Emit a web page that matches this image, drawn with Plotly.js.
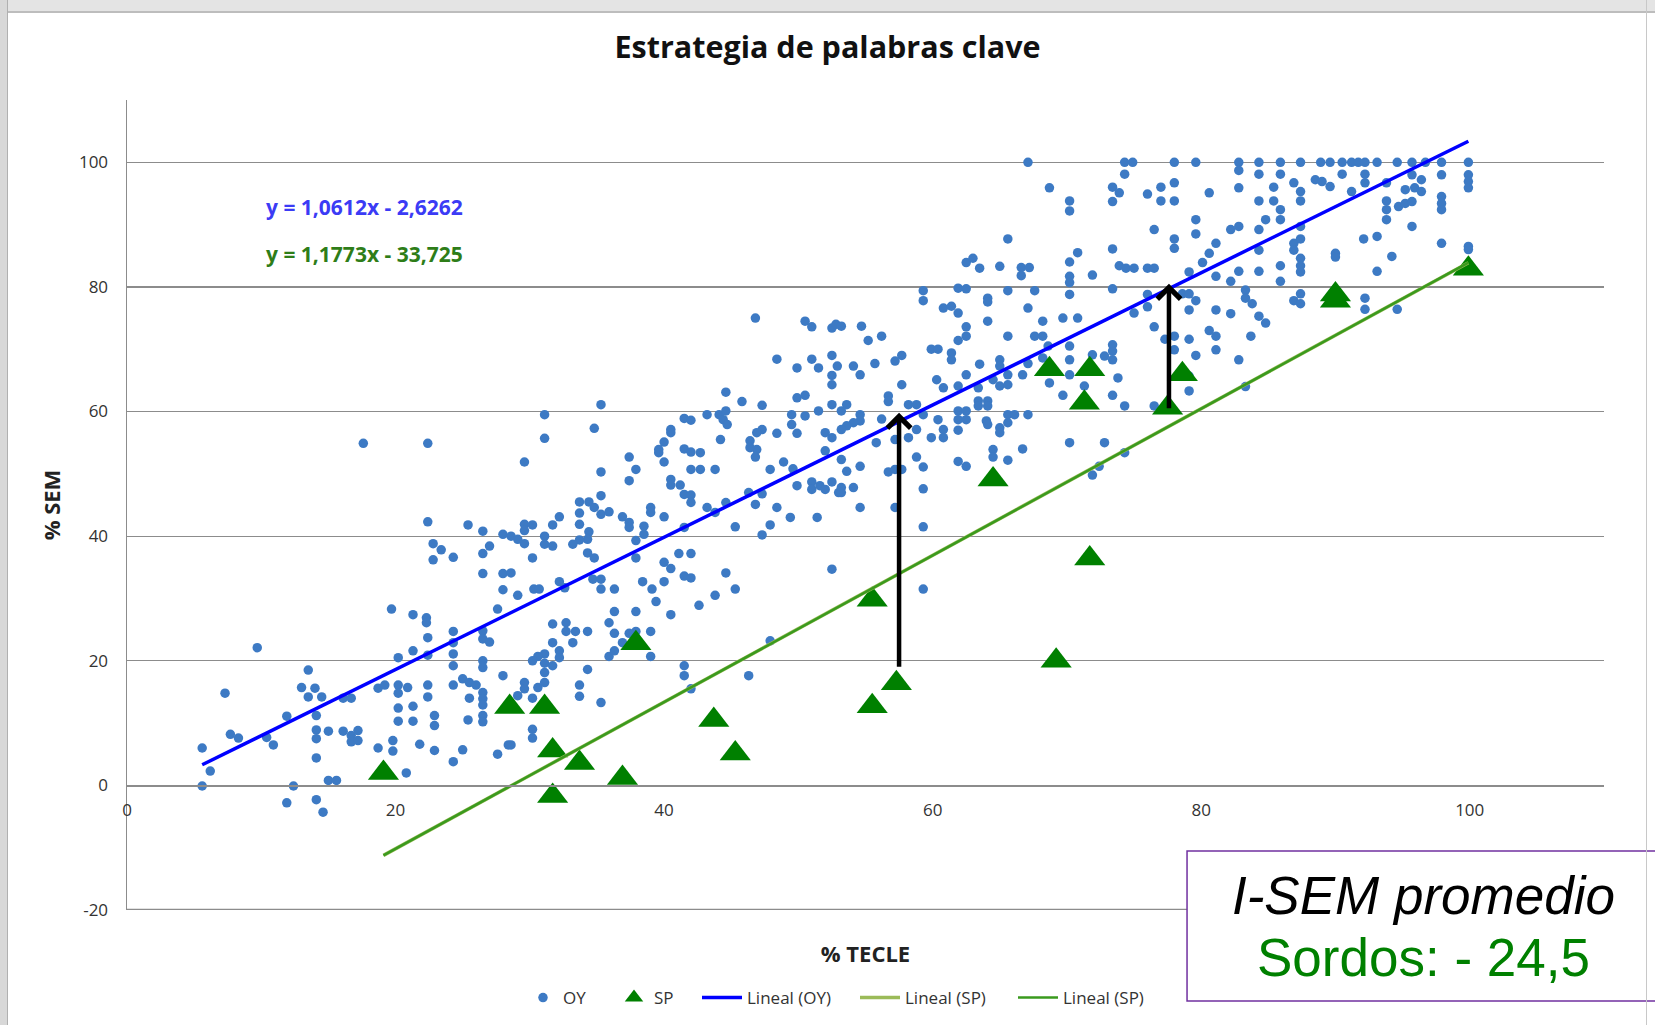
<!DOCTYPE html>
<html>
<head>
<meta charset="utf-8">
<script src="https://cdn.plot.ly/plotly-3.0.1.min.js"></script>
<style>
  html, body { margin: 0; padding: 0; background: #ffffff; }
  #wrap { position: relative; width: 1655px; height: 1025px; overflow: hidden; }
  #chart { position: absolute; left: 0; top: 0; width: 1655px; height: 1025px; }
  #topbar { position: absolute; left: 0; top: 0; width: 1655px; height: 11px; background: #e4e4e4; border-bottom: 2px solid #bdbdbd; z-index: 2; }
  #leftbar { position: absolute; left: 0; top: 0; width: 7px; height: 1025px; background: #d8d8d8; border-right: 1px solid #b0b0b0; z-index: 2; }
  #rightbar { position: absolute; left: 1646px; top: 0; width: 1px; height: 1025px; background: #c8c8c8; z-index: 2; }
</style>
</head>
<body>
<div id="wrap">
  <div id="chart"></div>
  <div id="topbar"></div>
  <div id="leftbar"></div>
  <div id="rightbar"></div>
</div>
<script>
// ---------- DATA ----------
const chartTitle = "Estrategia de palabras clave";
const xTitle = "% TECLE";
const yTitle = "% SEM";
const xTicks = [0, 20, 40, 60, 80, 100];
const yTicks = [-20, 0, 20, 40, 60, 80, 100];

// OY series (% TECLE, % SEM)
const oyX = [
19.7,21.3,22.3,22.3,22.4,27.6,24.3,24.3,24.3,24.3,26.5,26.5,27.0,26.5,26.5,9.7,7.3,13.5,13.0,14.0,13.5,14.5,16.1,16.7,20.2,21.3,22.4,18.7,19.2,20.2,20.2,20.9,22.4,22.4,24.3,25.0,25.5,26.0,25.5,26.5,26.5,26.5,26.5,26.5,28.0,20.2,21.3,20.2,21.3,22.9,22.9,25.4,11.9,14.1,7.7,8.3,10.4,10.9,5.6,14.1,15.0,14.1,16.1,16.7,17.2,16.7,17.2,18.7,19.8,19.8,21.8,22.9,25.0,24.3,27.6,28.4,14.1,6.2,20.8,5.6,12.4,15.0,15.6,11.9,14.1,14.6,
17.6,22.4,22.4,25.4,26.5,28.0,22.8,23.4,27.0,26.5,24.3,22.8,26.5,28.0,28.0,
46.8,50.5,51.0,52.5,52.8,48.4,51.0,52.5,49.9,51.5,52.9,
35.3,31.1,34.8,31.1,29.6,35.3,37.4,37.9,37.4,44.6,45.8,47.3,49.9,50.5,52.5,52.5,52.5,41.5,42.0,43.2,44.1,44.6,44.4,44.7,40.5,40.5,40.0,39.6,39.6,40.0,41.5,42.0,42.7,42.0,42.7,43.8,44.2,47.3,46.9,46.4,46.9,46.4,46.8,48.4,49.5,49.5,49.9,50.5,51.5,52.0,52.5,52.0,48.9,47.9,49.6,49.9,51.0,51.0,51.6,52.5,52.0,53.0,40.5,40.5,41.2,41.5,42.0,42.0,43.2,43.8,44.6,46.3,47.3,46.8,48.4,49.4,51.4,47.9,47.3,45.3,35.3,33.7,34.4,34.8,35.3,35.9,33.7,32.2,31.7,29.6,30.2,29.6,33.7,34.4,34.3,33.7,33.2,31.1,31.1,31.7,29.6,28.6,29.1,36.9,37.4,37.4,38.5,38.5,37.9,39.0,39.0,40.0,41.5,34.3,34.8,30.2,37.9,41.1,42.0,40.0,40.5,28.6,44.6,52.5,32.2,34.7,35.3,35.3,36.3,38.4,39.1,40.0,41.5,42.0,43.8,45.3,30.3,30.7,29.1,32.6,
39.4,42.6,36.3,37.9,40.5,31.7,32.7,32.7,33.4,34.3,35.9,36.3,37.4,37.9,39.0,36.9,31.7,33.2,32.2,32.2,31.1,30.6,30.2,31.1,31.7,31.1,31.1,30.6,29.6,29.6,29.1,30.2,35.9,36.3,34.3,33.7,33.7,35.3,39.0,41.5,41.5,42.0,46.3,47.9,30.2,30.2,28.6,
67.1,74.3,74.9,74.3,68.7,70.2,70.2,73.4,73.9,73.4,76.0,77.0,77.0,76.5,65.6,70.8,73.4,70.2,62.5,63.0,63.5,65.0,66.6,67.2,66.6,70.2,70.2,71.9,73.9,74.4,75.0,76.0,76.5,59.3,59.3,61.9,62.5,64.1,64.1,65.6,67.6,70.2,73.4,76.0,60.8,61.4,61.9,67.1,76.0,75.0,64.1,68.2,69.7,70.8,53.2,54.7,55.2,56.2,62.5,62.5,61.9,65.6,67.6,68.2,76.5,77.3,59.9,60.4,61.4,61.4,57.7,57.2,55.7,54.1,63.5,65.0,65.0,67.1,68.6,70.2,70.2,71.9,72.8,73.4,73.4,73.4,68.2,
54.6,57.7,56.7,56.7,53.6,53.2,54.6,54.6,54.1,53.6,53.2,56.2,58.2,58.8,59.3,58.8,58.2,57.2,55.8,60.4,59.9,60.8,60.8,60.3,60.8,61.9,61.9,62.5,61.9,62.5,61.9,62.5,63.4,63.4,63.4,64.1,64.1,64.0,64.1,65.0,65.0,65.6,65.6,66.1,67.1,65.0,65.6,64.5,65.6,66.7,64.5,64.5,65.6,66.7,61.9,62.5,58.8,59.3,56.7,57.2,57.7,54.6,53.6,53.2,53.2,54.1,53.2,59.3,54.6,57.2,59.3,59.3,70.2,72.8,74.3,72.4,71.9,69.7,71.3,73.4,74.3,76.5,70.2,73.8,68.7,
78.0,79.6,82.8,84.3,85.9,87.4,88.9,89.6,90.5,91.2,91.7,92.2,93.1,94.6,95.7,96.7,97.9,99.9,
82.8,84.3,85.9,78.0,80.6,82.8,78.0,84.3,85.4,85.4,85.9,85.9,86.9,87.4,87.4,88.5,89.0,89.6,90.5,91.2,92.2,92.2,93.8,93.8,93.8,93.8,94.7,95.2,95.7,95.2,95.7,95.9,96.4,96.4,97.9,97.9,97.9,97.9,99.9,99.9,99.9,95.7,79.6,79.6,82.2,82.8,84.3,84.8,87.4,78.0,78.0,81.1,80.6,84.3,86.9,86.9,87.4,87.4,87.4,87.4,90.0,90.0,92.1,93.1,94.2,97.9,99.9,99.9,80.1,79.1,81.1,82.2,82.8,84.3,85.9,85.9,93.1,78.6,79.1,79.6,79.1,81.1,82.2,83.3,83.3,83.8,86.9,87.4,87.4,92.2,92.2,94.6,84.3,84.8,80.6,81.1,79.1,83.7,78.0,78.0,81.1,79.6,82.8,
79.1,83.3,79.1
];
const oyY = [
28.3,27.4,26.9,26.1,23.7,28.3,24.7,22.9,21.1,19.2,24.8,23.5,23.0,20.0,18.9,22.1,14.8,18.5,15.7,15.6,14.2,14.2,14.0,14.0,20.5,21.6,20.9,15.6,16.1,16.1,14.8,15.7,16.1,14.2,16.1,17.1,16.5,16.1,14.0,14.9,13.9,12.9,11.2,10.2,17.6,12.4,12.7,10.3,10.3,11.2,9.6,10.5,11.1,11.2,8.2,7.6,7.7,6.5,6.0,8.9,8.7,7.5,8.7,8.0,8.8,7.0,7.2,6.0,7.2,5.5,6.6,5.6,5.7,3.8,5.0,6.5,4.4,2.3,2.0,-0.1,-0.1,0.8,0.8,-2.8,-2.3,-4.3,
54.9,54.9,42.3,41.8,40.8,40.3,38.8,37.8,38.4,37.2,36.6,36.2,34.0,34.0,31.4,
75.0,74.5,73.6,73.4,74.0,68.4,68.4,69.0,67.0,67.0,67.3,
61.1,59.5,57.3,55.7,51.9,50.3,52.7,50.7,48.9,63.1,61.6,61.0,62.2,62.6,65.8,64.3,61.1,58.9,58.6,59.5,59.5,60.1,58.7,57.9,57.1,56.6,55.1,53.9,53.4,51.9,54.0,53.5,53.4,50.7,50.7,50.7,55.5,57.1,56.6,55.3,53.9,54.2,52.7,56.5,59.5,57.9,56.5,59.3,60.1,56.6,55.8,53.7,51.9,50.7,50.8,48.1,48.7,47.5,48.1,48.7,47.5,47.0,49.1,48.2,48.2,46.7,46.6,45.4,44.6,43.8,45.4,47.0,46.8,45.1,44.6,43.0,43.0,41.8,40.2,41.5,46.5,45.5,45.5,44.6,43.5,43.9,43.7,43.1,41.8,41.9,41.8,40.9,41.9,40.7,39.5,39.4,38.7,40.0,38.7,38.4,38.8,40.0,39.5,43.1,42.2,41.4,41.6,40.3,39.3,44.6,43.8,43.1,41.4,37.3,36.5,36.5,36.5,37.2,37.2,35.8,34.8,34.1,34.1,34.7,32.7,33.1,33.1,31.5,31.5,32.7,31.5,32.7,33.6,33.3,30.5,31.5,31.5,31.5,30.5,31.7,
29.5,28.9,27.9,27.9,27.4,25.9,26.1,24.7,24.7,24.7,26.1,24.4,24.4,24.7,24.7,22.9,22.9,22.9,21.6,20.5,21.1,20.7,20.0,19.6,19.2,18.1,16.5,15.7,16.5,15.5,14.4,14.0,20.7,21.6,18.6,16.1,14.3,13.3,20.7,19.2,17.6,15.5,17.6,23.2,9.0,7.6,6.5,
100,100,100,98.1,95.9,93.8,92.2,96.0,95.1,93.7,94.9,96.0,93.8,89.2,87.7,85.5,86.1,84.0,83.9,84.6,83.0,83.3,83.1,83.1,81.8,81.7,80.7,81.9,83.4,83.0,83.0,83.0,83.0,79.4,77.8,79.8,79.7,78.2,77.6,79.4,79.4,78.8,79.7,78.8,76.6,76.9,75.8,76.6,76.8,75.8,74.5,74.5,75.0,75.0,73.7,73.7,71.4,72.1,73.6,72.1,71.4,72.1,72.1,72.1,73.6,71.6,70.0,70.0,69.4,68.3,69.0,68.1,67.7,67.3,67.6,68.3,67.3,67.7,70.5,70.5,68.3,69.1,68.9,70.7,69.7,68.3,68.6,
65.9,64.3,62.5,61.6,61.1,60.1,59.5,58.5,58.2,57.7,57.1,58.8,61.1,61.1,59.5,57.1,55.8,55.5,55.0,58.7,55.8,57.1,55.8,65.1,63.8,64.1,60.1,60.1,58.7,58.7,57.0,65.9,63.8,61.7,60.9,61.7,60.9,58.5,57.9,57.4,56.6,58.2,59.5,59.5,59.5,64.1,64.3,65.1,65.9,65.9,53.9,52.7,52.2,54.0,52.0,51.2,52.7,51.1,50.3,50.7,50.7,51.2,50.4,52.3,47.8,47.8,47.0,47.6,44.6,44.6,41.5,31.5,55.0,55.0,53.4,51.2,49.8,62.6,64.1,62.6,60.9,60.9,65.9,65.4,64.6,
100,100,100,100,100,100,100,100,100,100,100,100,100,100,100,100,100,100,
98.7,98.1,98.1,96.7,95.1,95.9,93.8,93.8,96.0,93.8,92.4,90.8,96.7,95.3,93.8,97.2,96.9,96.1,98.1,95.3,98.1,96.7,96.7,93.8,92.4,90.8,92.9,93.4,93.7,95.6,98.0,95.9,97.2,95.3,98.0,94.5,93.4,92.4,98.0,96.9,95.9,89.7,90.8,88.5,89.2,89.7,89.2,90.8,89.7,87.7,86.2,87.0,85.4,85.9,87.0,85.9,87.7,84.6,83.4,82.4,85.4,84.8,87.7,88.1,84.9,87.0,86.5,86.0,83.9,82.4,81.7,80.9,82.5,82.5,83.4,80.9,82.5,78.9,78.9,77.8,76.3,76.3,75.7,79.5,78.2,77.3,77.8,78.9,77.3,78.2,76.4,76.4,75.3,74.2,73.0,72.1,71.6,72.1,72.1,69.9,69.9,69.0,68.3,
63.3,64.0,65.7
];

// SP series (% TECLE, % SEM)
const spX = [19.1,28.5,31.1,31.7,33.7,36.9,31.7,37.9,43.7,45.3,55.5,55.5,57.3,64.5,68.7,71.7,71.3,69.2,71.7,77.5,78.6,90.0,90.0,99.9];
const spY = [2.0,12.6,12.6,5.6,3.6,1.2,-1.7,22.8,10.5,5.1,29.8,12.7,16.4,49.1,66.8,66.8,61.4,20.0,36.4,60.6,66.0,78.8,77.8,82.9];

// Linear trend coefficients shown on the chart
const oyFit = { slope: 1.0612, intercept: -2.6262, label: "y = 1,0612x - 2,6262" };
const spFit = { slope: 1.1773, intercept: -33.725, label: "y = 1,1773x - 33,725" };

// Arrows (x, from y, to y)
const arrowX = [57.5, 77.6];
const arrowFrom = [18.8, 60.3];
const arrowTo = [59.8, 80.5];

const boxLine1 = "I-SEM promedio";
const boxLine2 = "Sordos: - 24,5";
const legendNames = ["OY", "SP", "Lineal (OY)", "Lineal (SP)", "Lineal (SP)"];

// ---------- BUILD ----------
function fitLine(xs, fit) {
  const lo = Math.min.apply(null, xs), hi = Math.max.apply(null, xs);
  return { x: [lo, hi], y: [fit.slope * lo + fit.intercept, fit.slope * hi + fit.intercept] };
}
const oyLine = fitLine(oyX, oyFit);
const spLine = fitLine(spX, spFit);

const yRange = [-20, 110];
const xRange = [0, 110];
const FONT = 'Open Sans, sans-serif';
const W = 1655, H = 1025;

const traces = [
  { type: 'scatter', mode: 'markers', name: legendNames[0], x: oyX, y: oyY, legend: 'legend',
    marker: { color: '#3d7ac4', size: 9.5, line: { width: 0 } } },
  { type: 'scatter', mode: 'markers', name: legendNames[1], x: spX, y: spY, legend: 'legend2',
    marker: { color: '#008000', symbol: 'triangle-up', size: 27, line: { width: 0 } } },
  { type: 'scatter', mode: 'lines', name: legendNames[2], x: oyLine.x, y: oyLine.y, legend: 'legend3',
    line: { color: '#0000ff', width: 3.5 } },
  { type: 'scatter', mode: 'lines', name: legendNames[3], x: spLine.x, y: spLine.y, legend: 'legend4',
    line: { color: '#9bbb59', width: 3.5 } },
  { type: 'scatter', mode: 'lines', name: legendNames[4], x: spLine.x, y: spLine.y, legend: 'legend5',
    line: { color: '#3a9a1e', width: 2.5 } }
];

const annotations = [
  { xref: 'paper', yref: 'paper', x: 0.0928, y: 0.868, xanchor: 'left', yanchor: 'middle',
    text: '<b>' + oyFit.label + '</b>', showarrow: false,
    font: { family: FONT, size: 21, color: '#3b3bf5' } },
  { xref: 'paper', yref: 'paper', x: 0.0928, y: 0.810, xanchor: 'left', yanchor: 'middle',
    text: '<b>' + spFit.label + '</b>', showarrow: false,
    font: { family: FONT, size: 21, color: '#2e7d18' } },
  { xref: 'paper', yref: 'paper', x: 0.8775, y: 0.0185, xanchor: 'center', yanchor: 'middle',
    text: '<i>' + boxLine1 + '</i>', showarrow: false,
    font: { family: 'Liberation Sans, Arial, sans-serif', size: 53, color: '#000000' } },
  { xref: 'paper', yref: 'paper', x: 0.8775, y: -0.059, xanchor: 'center', yanchor: 'middle',
    text: boxLine2, showarrow: false,
    font: { family: 'Liberation Sans, Arial, sans-serif', size: 53, color: '#008000' } }
];
for (let i = 0; i < arrowX.length; i++) {
  annotations.push({
    x: arrowX[i], y: arrowTo[i], ax: arrowX[i], ay: arrowFrom[i],
    xref: 'x', yref: 'y', axref: 'x', ayref: 'y', text: '',
    showarrow: true, arrowhead: 4, arrowsize: 1, arrowwidth: 4.5, arrowcolor: '#000000'
  });
}

function legendAt(px, itemw) {
  return { orientation: 'h', xref: 'container', yref: 'container',
           x: px / W, xanchor: 'left', y: 1 - 998 / H, yanchor: 'middle',
           font: { family: FONT, size: 17, color: '#333333' },
           itemwidth: itemw, borderwidth: 0, bgcolor: 'rgba(0,0,0,0)' };
}

const layout = {
  width: W, height: H,
  paper_bgcolor: '#ffffff', plot_bgcolor: '#ffffff',
  margin: { l: 127, r: 51, t: 100, b: 115 },
  font: { family: FONT, color: '#333333' },
  title: { text: '<b>' + chartTitle + '</b>', xref: 'container', yref: 'container',
           x: 0.5, xanchor: 'center', y: 1 - 47 / H, yanchor: 'middle',
           font: { family: FONT, size: 30.5, color: '#111111' } },
  xaxis: {
    range: xRange, tickvals: xTicks, ticktext: xTicks.map(String),
    anchor: 'free', position: (0 - yRange[0]) / (yRange[1] - yRange[0]),
    showgrid: false, zeroline: false, showline: true, linecolor: '#8c8c8c', linewidth: 1.5,
    ticks: '', ticklabelstandoff: 9,
    tickfont: { family: FONT, size: 17, color: '#333333' },
    title: { text: '<b>' + xTitle + '</b>', standoff: 126,
             font: { family: FONT, size: 22, color: '#222222' } }
  },
  yaxis: {
    range: yRange, tickvals: yTicks, ticktext: yTicks.map(String),
    showgrid: true, gridcolor: '#8c8c8c', gridwidth: 1.3,
    zeroline: false, showline: true, linecolor: '#8c8c8c', linewidth: 1.5,
    ticks: '', ticklabelstandoff: 14,
    tickfont: { family: FONT, size: 17, color: '#333333' },
    title: { text: '<b>' + yTitle + '</b>', standoff: 12,
             font: { family: FONT, size: 22, color: '#222222' } }
  },
  showlegend: true,
  legend: legendAt(523, 30),
  legend2: legendAt(614, 30),
  legend3: legendAt(697, 40),
  legend4: legendAt(855, 40),
  legend5: legendAt(1013, 40),
  shapes: [
    { type: 'line', xref: 'paper', yref: 'y', x0: 0, x1: 1, y0: yRange[0], y1: yRange[0],
      line: { color: '#8c8c8c', width: 2.5 }, layer: 'below' },
    { type: 'rect', xref: 'paper', yref: 'paper', x0: 0.7177, x1: 1.06, y0: 0.0728, y1: -0.1123,
      line: { color: '#7030a0', width: 1.5 }, fillcolor: 'rgba(255,255,255,1)', layer: 'above' }
  ],
  annotations: annotations
};

Plotly.newPlot('chart', traces, layout, { displayModeBar: false, staticPlot: true });
</script>
</body>
</html>
